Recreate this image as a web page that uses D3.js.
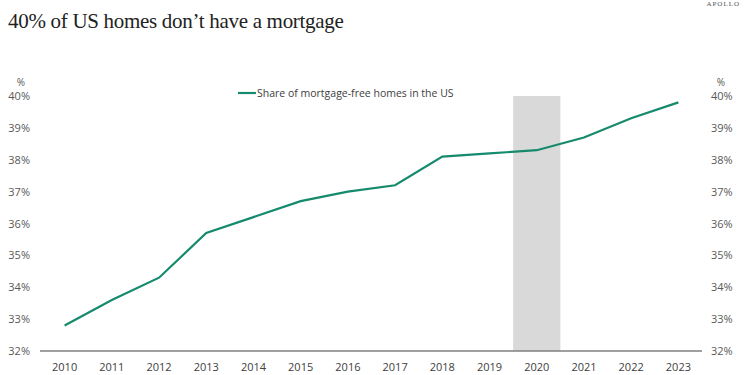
<!DOCTYPE html>
<meta charset="utf-8">
<script src="https://d3js.org/d3.v7.min.js"></script>
<style>
  body { margin: 0; background: #fff; }
</style>
<div id="my_dataviz"></div>
<script>

// data
var years = ["2010","2011","2012","2013","2014","2015","2016","2017","2018","2019","2020","2021","2022","2023"]
var shareFree = [32.8, 33.6, 34.3, 35.7, 36.2, 36.7, 37.0, 37.2, 38.1, 38.2, 38.3, 38.7, 39.3, 39.8]
var yTicks = [32, 33, 34, 35, 36, 37, 38, 39, 40]
var shaded = ["2020"]
var seriesName = "Share of mortgage-free homes in the US"

var width = 750,
    height = 375

var svg = d3.select("#my_dataviz")
  .append("svg")
    .attr("width", width)
    .attr("height", height)

var x = d3.scaleBand()
  .domain(years)
  .range([41, 702])

var y = d3.scaleLinear()
  .domain([32, 40])
  .range([351, 96])

var labelFont = "'Open Sans', 'Noto Sans', sans-serif"

// title
svg.append("text")
  .attr("x", 8)
  .attr("y", 28)
  .style("font-family", "'Liberation Serif', 'DejaVu Serif', serif")
  .style("font-size", "21px")
  .style("letter-spacing", "-0.3px")
  .style("fill", "#222")
  .text("40% of US homes don\u2019t have a mortgage")

svg.append("text")
  .attr("x", 740)
  .attr("y", 6)
  .attr("text-anchor", "end")
  .style("font-family", "'Liberation Serif', serif")
  .style("font-size", "7px")
  .style("letter-spacing", "1px")
  .style("fill", "#555")
  .text("APOLLO")

// shaded period
svg.selectAll("rect.shade")
  .data(shaded)
  .enter()
  .append("rect")
    .attr("x", function(d){ return x(d) })
    .attr("width", x.bandwidth())
    .attr("y", y(40))
    .attr("height", y(32) - y(40))
    .style("fill", "#d9d9d9")

// left and right axis labels
var sides = [{x: 30, anchor: "end"}, {x: 711, anchor: "start"}]
sides.forEach(function(s) {
  svg.selectAll(null)
    .data(yTicks)
    .enter()
    .append("text")
      .attr("x", s.x)
      .attr("y", function(d){ return y(d) + 4 })
      .attr("text-anchor", s.anchor)
      .style("font-family", labelFont)
      .style("font-size", "11px")
      .style("fill", "#595959")
      .text(function(d){ return d + "%" })
  svg.append("text")
    .attr("x", s.anchor == "end" ? 21 : 721)
    .attr("y", 86)
    .attr("text-anchor", "middle")
    .style("font-family", labelFont)
    .style("font-size", "10px")
    .style("fill", "#595959")
    .text("%")
})

// x axis
svg.append("line")
  .attr("x1", 40)
  .attr("x2", 702)
  .attr("y1", y(32))
  .attr("y2", y(32))
  .style("stroke", "#7f7f7f")
  .style("stroke-width", 1.5)

svg.selectAll("text.year")
  .data(years)
  .enter()
  .append("text")
    .attr("x", function(d){ return x(d) + x.bandwidth() / 2 })
    .attr("y", 371)
    .attr("text-anchor", "middle")
    .style("font-family", labelFont)
    .style("font-size", "11px")
    .style("fill", "#404040")
    .text(function(d){ return d })

// line
var line = d3.line()
  .x(function(d, i){ return x(years[i]) + x.bandwidth() / 2 })
  .y(function(d){ return y(d) })

svg.append("path")
  .datum(shareFree)
  .attr("d", line)
  .style("fill", "none")
  .style("stroke", "#168a6c")
  .style("stroke-width", 2.2)

// legend
svg.append("line")
  .attr("x1", 238)
  .attr("x2", 256)
  .attr("y1", 93)
  .attr("y2", 93)
  .style("stroke", "#168a6c")
  .style("stroke-width", 2.2)

svg.append("text")
  .attr("x", 257)
  .attr("y", 97)
  .style("font-family", labelFont)
  .style("font-size", "10.5px")
  .style("fill", "#404040")
  .text(seriesName)

</script>
